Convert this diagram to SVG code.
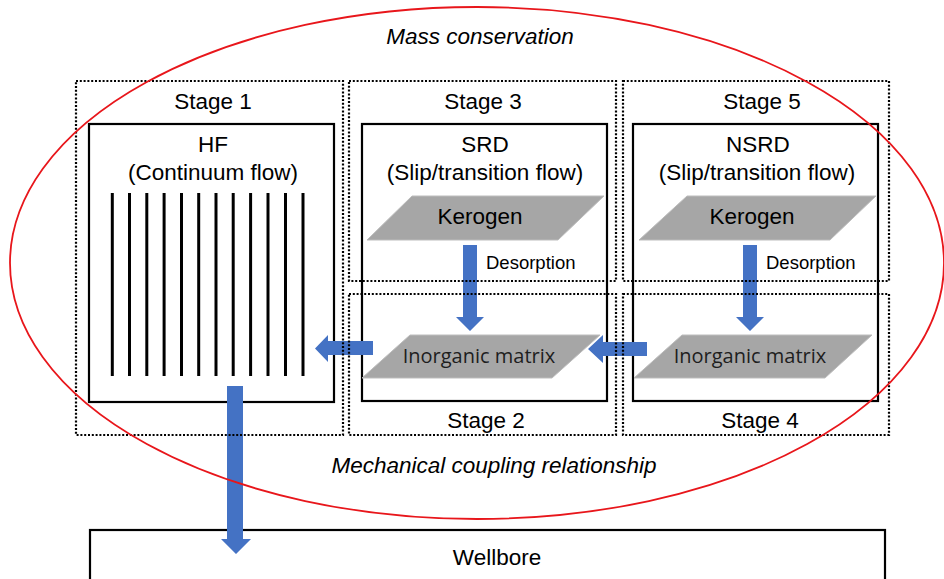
<svg xmlns="http://www.w3.org/2000/svg" width="944" height="579" viewBox="0 0 944 579">
<style>
text{font-family:"Liberation Sans",Arial,sans-serif;font-size:22.5px;fill:#000;text-anchor:middle}
.it{font-style:italic}
.sm{font-size:18.5px;text-anchor:start}
.cal{font-family:"Open Sans","Noto Sans",sans-serif;font-size:20px;fill:#1e1e1e}
.box{fill:#fff;stroke:#000;stroke-width:2.2}
.dot{fill:none;stroke:#000;stroke-width:2.2;stroke-dasharray:2 1.8}
.para{fill:#a6a6a6;stroke:#bdbdbd;stroke-width:1}
.arr{fill:#4472c4}
.ln{stroke:#000;stroke-width:3}
</style>
<rect width="944" height="579" fill="#fff"/>
<g id="wellbore">
<rect class="box" x="90" y="530" width="795" height="60"/>
<text x="497" y="565">Wellbore</text>
</g>
<g id="hf">
<rect class="box" x="89" y="124" width="245" height="278"/>
<text x="213" y="152">HF</text>
<text x="213" y="180">(Continuum flow)</text>
<g class="ln">
<line x1="112.3" y1="193" x2="112.3" y2="376"/>
<line x1="129.5" y1="193" x2="129.5" y2="376"/>
<line x1="146.8" y1="193" x2="146.8" y2="376"/>
<line x1="164.1" y1="193" x2="164.1" y2="376"/>
<line x1="181.5" y1="193" x2="181.5" y2="376"/>
<line x1="198.7" y1="193" x2="198.7" y2="376"/>
<line x1="216" y1="193" x2="216" y2="376"/>
<line x1="233.2" y1="193" x2="233.2" y2="376"/>
<line x1="250.6" y1="193" x2="250.6" y2="376"/>
<line x1="268" y1="193" x2="268" y2="376"/>
<line x1="285.5" y1="193" x2="285.5" y2="376"/>
<line x1="303" y1="193" x2="303" y2="376"/>
</g>
</g>
<g id="srd">
<rect class="box" x="362" y="124" width="245" height="277"/>
<text x="485" y="152">SRD</text>
<text x="485" y="180">(Slip/transition flow)</text>
<polygon class="para" points="412,196 604,196 558,240 367,240"/>
<text x="480" y="224">Kerogen</text>
<polygon class="para" points="410,335 600,335 552,378 362,378"/>
<text class="cal" x="479" y="363">Inorganic matrix</text>
</g>
<g id="nsrd">
<rect class="box" x="633" y="124" width="245" height="277"/>
<text x="758" y="152">NSRD</text>
<text x="757" y="180">(Slip/transition flow)</text>
<polygon class="para" points="687,196 876,196 830,240 639,240"/>
<text x="752" y="224">Kerogen</text>
<polygon class="para" points="682,335 872,335 825,378 634,378"/>
<text class="cal" x="750" y="363">Inorganic matrix</text>
</g>
<g id="connectors">
<polygon class="arr" points="463,245 477,245 477,317 484,317 470,331 456,317 463,317"/>
<text class="sm" x="486" y="269">Desorption</text>
<polygon class="arr" points="743,245 757,245 757,317 764,317 750,331 736,317 743,317"/>
<text class="sm" x="766" y="269">Desorption</text>
<polygon class="arr" points="373,341 328,341 328,335 315,348.5 328,362 328,355 373,355"/>
<polygon class="arr" points="647,342 603,342 603,335 588,349 603,363 603,356 647,356"/>
<polygon class="arr" points="227,386 243,386 243,539 251,539 236,554 221,539 227,539"/>
</g>
<g id="stage1"><rect class="dot" x="76" y="81" width="267" height="354"/><text x="213" y="109">Stage 1</text></g>
<g id="stage3"><rect class="dot" x="349" y="81" width="267" height="200"/><text x="483" y="109">Stage 3</text></g>
<g id="stage2"><rect class="dot" x="349" y="294" width="267" height="141"/><text x="486" y="428">Stage 2</text></g>
<g id="stage5"><rect class="dot" x="623" y="81" width="266" height="200"/><text x="762" y="109">Stage 5</text></g>
<g id="stage4"><rect class="dot" x="623" y="294" width="266" height="141"/><text x="760" y="428">Stage 4</text></g>
<g id="ellipse">
<ellipse cx="477" cy="263" rx="467" ry="256" fill="none" stroke="#e8161b" stroke-width="1.8"/>
<text class="it" x="480" y="44">Mass conservation</text>
<text class="it" x="494" y="473">Mechanical coupling relationship</text>
</g>
</svg>
